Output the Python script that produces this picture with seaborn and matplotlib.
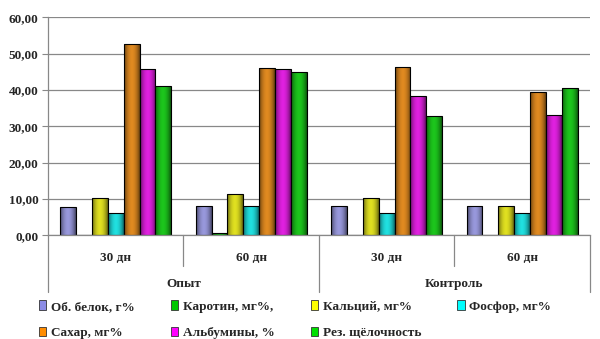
import numpy as np
import pandas as pd
import matplotlib
matplotlib.use("Agg")
import matplotlib.pyplot as plt
import seaborn as sns
from matplotlib.patches import Patch
import matplotlib.transforms as mtransforms

# ---- data ----
periods = ["30 дн", "60 дн", "30 дн", "60 дн"]
groups = ["Опыт", "Контроль"]
indicators = ["Об. белок, г%", "Каротин, мг%,", "Кальций, мг%", "Фосфор, мг%",
              "Сахар, мг%", "Альбумины, %", "Рез. щёлочность"]
belok = [7.7, 8.1, 8.1, 8.1]
karotin = [0.2, 0.7, 0.2, 0.2]
kalcij = [10.3, 11.4, 10.3, 8.1]
fosfor = [6.2, 8.1, 6.1, 6.1]
sahar = [52.6, 46.1, 46.4, 39.4]
albuminy = [45.9, 45.8, 38.3, 33.1]
schelochnost = [41.0, 44.9, 32.7, 40.5]
colors = ["#8C8CE6", "#00C800", "#FFFF00", "#00FFFF", "#FF8C00", "#FF00FF", "#00E000"]

series = [belok, karotin, kalcij, fosfor, sahar, albuminy, schelochnost]
slots = ["s%d" % i for i in range(len(periods))]
rows = []
for name, vals in zip(indicators, series):
    for s, v in zip(slots, vals):
        rows.append({"slot": s, "indicator": name, "value": v})
df = pd.DataFrame(rows)

sns.set_style("white")
plt.rcParams["font.family"] = ["Liberation Serif", "DejaVu Serif"]
plt.rcParams["font.weight"] = "bold"
FS = 9.5

fig = plt.figure(figsize=(6.0, 3.39), dpi=100)
ax = fig.add_axes([0.08, 0.306, 0.903, 0.643])

sns.barplot(data=df, x="slot", y="value", hue="indicator", order=slots,
            hue_order=indicators, palette=colors, width=0.82, gap=0,
            edgecolor="black", linewidth=0.8, legend=False, ax=ax, errorbar=None)

# cylinder-like shading on bars
grad = np.linspace(-1, 1, 64)
shade = np.abs(grad) ** 2
rgba = np.zeros((1, 64, 4))
rgba[..., 3] = shade * 0.55
for p in list(ax.patches):
    x0, y0 = p.get_x(), p.get_y()
    w, h = p.get_width(), p.get_height()
    if h <= 0:
        continue
    im = ax.imshow(rgba, extent=[x0, x0 + w, y0, y0 + h], aspect="auto",
                   zorder=p.get_zorder() + 0.1, interpolation="bilinear")
    im.set_clip_path(p)

ax.set_xlim(-0.5, len(periods) - 0.5)
ax.set_ylim(0, 60)
ax.set_yticks(np.arange(0, 61, 10))
ax.set_yticklabels(["%d,00" % v for v in range(0, 61, 10)], fontsize=FS, fontweight="bold")
ax.yaxis.grid(True, color="#888888", linewidth=0.9)
ax.set_axisbelow(True)
ax.tick_params(axis="y", length=4, color="#888888", pad=3, left=True)
ax.set_xticks(range(len(periods)))
ax.set_xticklabels(periods, fontsize=FS, fontweight="bold")
ax.tick_params(axis="x", length=0, pad=12)
ax.set_xlabel("")
ax.set_ylabel("")
for s in ["top", "right"]:
    ax.spines[s].set_visible(False)
for s in ["left", "bottom"]:
    ax.spines[s].set_color("#888888")
    ax.spines[s].set_linewidth(0.9)

trans = mtransforms.blended_transform_factory(ax.transData, ax.transAxes)
# separators
for xb, long in [(-0.5, True), (0.5, False), (1.5, True), (2.5, False), (3.5, True)]:
    ax.plot([xb, xb], [0, -0.26 if long else -0.14], transform=trans, color="#888888",
            linewidth=0.9, clip_on=False)
for gi, g in enumerate(groups):
    ax.text(gi * 2 + 0.5, -0.225, g, transform=trans, ha="center", va="center",
            fontsize=FS, fontweight="bold")

# legend filled row by row (matplotlib fills column-major)
order = [0, 4, 1, 5, 2, 6, 3]
handles = [Patch(facecolor=c, edgecolor="#333333", linewidth=0.6) for c in colors]
fig.legend([handles[i] for i in order], [indicators[i] for i in order],
           loc="lower left", bbox_to_anchor=(0.045, -0.035),
           ncol=4, frameon=False, handlelength=0.55, handleheight=0.75,
           handletextpad=0.35, columnspacing=2.75, labelspacing=1.05,
           prop={"weight": "bold", "size": FS})

fig.savefig("out.png", dpi=100)
